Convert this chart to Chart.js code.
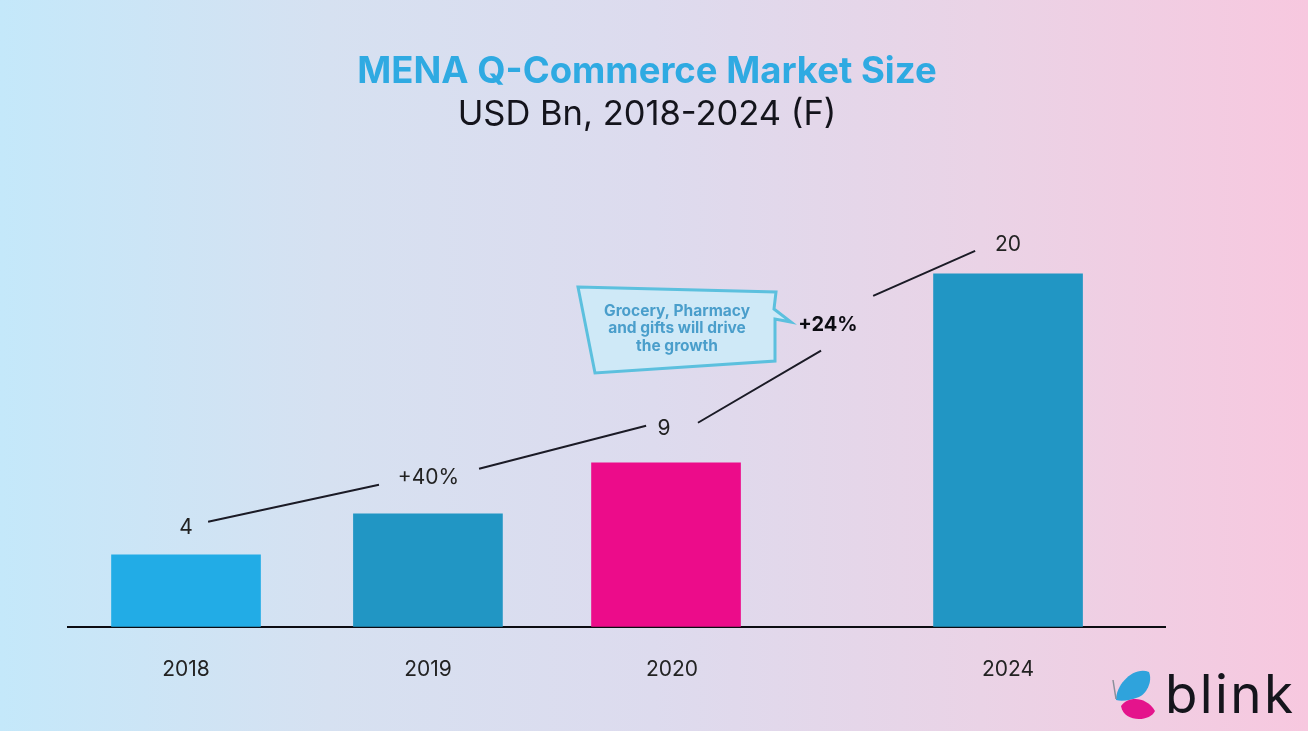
<!DOCTYPE html>
<html>
<head>
<meta charset="utf-8">
<title>MENA Q-Commerce Market Size</title>
<script src="https://cdn.jsdelivr.net/npm/chart.js@4/dist/chart.umd.min.js"></script>
<style>
  html, body { margin: 0; padding: 0; }
  body { width: 1308px; height: 731px; overflow: hidden;
         background: linear-gradient(90deg, #c4e8fa 0%, #d6e1f1 25%, #dddbee 50%, #ead3e6 75%, #f7c8df 100%); }
  canvas { display: block; }
</style>
</head>
<body>
<canvas id="myChart" width="1308" height="731"></canvas>
<script>
// data
const categories = ['2018', '2019', '2020', '2024'];
const marketSize = [4.08, 6.4, 9.29, 20];
const valueLabels = ['4', '', '9', '20'];
const barColors = ['#22ace6', '#2196c4', '#ec0c8a', '#2196c4'];

// 2024 sits further right, the axis skips 2021-2023
const slots = [0, 1.008, 2, 3.425];
// the 2020 label is not quite under its bar in the original
const tickSlots = [0, 1.008, 2.025, 3.425];

// growth line, null = gap around a label
const growthX = [0.092, 0.804, 0.804, 1.221, 1.917, 1.917, 2.133, 2.646, 2.646, 2.863, 3.288];
const growthY = [5.95, 8.05, null, 8.95, 11.39, null, 11.56, 15.64, null, 18.75, 21.3];

const calloutLines = ['Grocery, Pharmacy', 'and gifts will drive', 'the growth'];
const FONT = 'Inter, "Noto Sans", sans-serif';

// titles are centred a bit left of the plot, not on it
const titleShift = {
  id: 'titleShift',
  afterLayout(chart) {
    chart.boxes.forEach((b) => {
      if (b.position === 'top') { b.left = 0; b.right = 1294; }
    });
  }
};

const annotations = {
  id: 'annotations',
  afterDatasetsDraw(chart) {
    const c = chart.ctx;
    const bars = chart.getDatasetMeta(0).data;
    const lift = [27, 0, 34, 29];

    c.save();
    c.textAlign = 'center';
    c.textBaseline = 'middle';

    // value labels
    c.fillStyle = '#222';
    c.font = '21px ' + FONT;
    valueLabels.forEach((t, i) => {
      if (t) c.fillText(t, bars[i].x + (i === 2 ? -2 : 0), bars[i].y - lift[i]);
    });

    // growth labels
    c.fillText('+40%', 428.5, 478);
    c.font = '700 20px ' + FONT;
    c.fillStyle = '#0c0c12';
    c.fillText('+24%', 828, 325);

    // callout
    c.beginPath();
    c.moveTo(578, 287);
    c.lineTo(776, 292);
    c.lineTo(774, 309);
    c.lineTo(791, 322);
    c.lineTo(775, 319);
    c.lineTo(775, 361);
    c.lineTo(595, 373);
    c.closePath();
    c.fillStyle = '#cfe9f7';
    c.fill();
    c.strokeStyle = '#5cc0de';
    c.lineWidth = 3;
    c.lineJoin = 'miter';
    c.stroke();

    c.fillStyle = '#4a9ecb';
    c.font = '700 15.5px ' + FONT;
    calloutLines.forEach((t, i) => c.fillText(t, 677, 311 + i * 17.5));

    // logo
    c.beginPath();
    c.moveTo(1116, 700);
    c.bezierCurveTo(1116, 684, 1134, 666, 1149, 672);
    c.bezierCurveTo(1153, 682, 1146, 694, 1139, 697);
    c.bezierCurveTo(1131, 700, 1122, 702, 1116, 700);
    c.fillStyle = '#2fa3dc';
    c.fill();
    c.beginPath();
    c.moveTo(1121, 706);
    c.bezierCurveTo(1128, 696, 1146, 696, 1155, 711);
    c.bezierCurveTo(1150, 722, 1124, 723, 1121, 706);
    c.fillStyle = '#e4148c';
    c.fill();
    c.beginPath();
    c.moveTo(1113, 680);
    c.lineTo(1116, 699);
    c.strokeStyle = '#8a8f9a';
    c.lineWidth = 1.5;
    c.stroke();

    c.fillStyle = '#15151c';
    c.textAlign = 'left';
    c.textBaseline = 'alphabetic';
    c.font = '53px ' + FONT;
    c.letterSpacing = '2.4px';
    c.fillText('blink', 1165, 713);
    c.restore();
  }
};

new Chart(document.getElementById('myChart'), {
  type: 'bar',
  data: {
    datasets: [
      {
        data: categories.map((c, i) => ({ x: slots[i], y: marketSize[i] })),
        backgroundColor: barColors,
        barThickness: 149,
        order: 2
      },
      {
        type: 'line',
        data: growthX.map((x, i) => ({ x: x, y: growthY[i] })),
        borderColor: '#1b1b26',
        borderWidth: 2,
        pointRadius: 0,
        tension: 0,
        spanGaps: false,
        order: 1
      }
    ]
  },
  options: {
    responsive: false,
    animation: false,
    devicePixelRatio: 1,
    layout: { padding: { left: 68, right: 143, top: 0, bottom: 19 } },
    plugins: {
      legend: { display: false },
      tooltip: { enabled: false },
      title: {
        display: true,
        text: 'MENA Q-Commerce Market Size',
        color: '#2faae2',
        font: { family: FONT, size: 36.5, weight: 700, lineHeight: 1.2 },
        padding: { top: 50, bottom: 0 }
      },
      subtitle: {
        display: true,
        text: 'USD Bn, 2018-2024 (F)',
        color: '#14141c',
        font: { family: FONT, size: 34.5, weight: 400, lineHeight: 1.2 },
        padding: { top: 0, bottom: 0 }
      }
    },
    scales: {
      x: {
        type: 'linear',
        offset: false,
        min: -0.4917,
        max: 4.079,
        grid: { display: false, drawTicks: false },
        border: { display: true, color: '#0c0c12', width: 2 },
        afterBuildTicks(axis) { axis.ticks = tickSlots.map((v) => ({ value: v })); },
        ticks: {
          autoSkip: false,
          maxRotation: 0,
          padding: 30,
          color: '#222',
          font: { family: FONT, size: 21 },
          callback: (v, i) => categories[i]
        }
      },
      y: { display: false, min: 0, max: 27.85 }
    }
  },
  plugins: [titleShift, annotations]
});
</script>
</body>
</html>
